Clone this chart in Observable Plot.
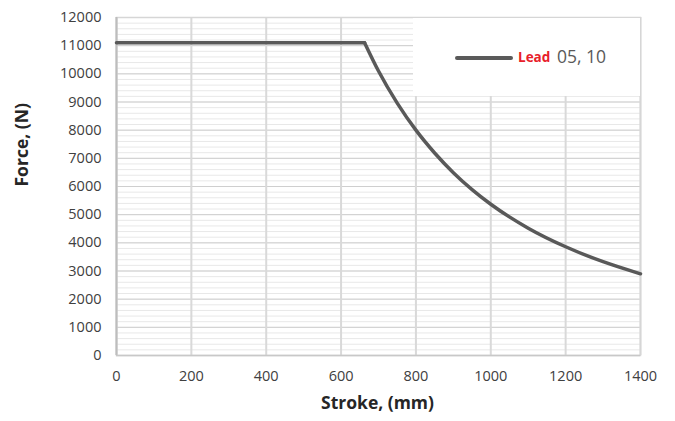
<!DOCTYPE html>
<html>
<head>
<meta charset="utf-8">
<script src="https://cdn.jsdelivr.net/npm/d3@7"></script>
<script src="https://cdn.jsdelivr.net/npm/@observablehq/plot@0.6"></script>
<style>
  html, body { margin: 0; padding: 0; background: #fff; }
  #wrap { position: relative; width: 675px; height: 421px; font-family: "Open Sans", sans-serif; }
  #legend { position: absolute; left: 413px; top: 18px; width: 227px; height: 78px; background: #fff; }
  #legend .sw { position: absolute; left: 42px; top: 38px; width: 58px; height: 4px; background: #5a5a5a; border-radius: 2px; }
  #legend .lead { position: absolute; left: 105px; top: 30px; color: #e8202a; font-weight: 700; font-size: 13.5px; }
  #legend .val { position: absolute; left: 144px; top: 26px; color: #595959; font-size: 17.5px; }
</style>
</head>
<body>
<div id="wrap"></div>
<script>
const stroke = [0, 200, 400, 600, 663, 700, 750, 800, 850, 900, 950, 1000, 1100, 1200, 1300, 1400];
const force  = [11100, 11100, 11100, 11100, 11100, 10100, 8960, 8000, 7190, 6490, 5890, 5370, 4520, 3860, 3330, 2900];
const cornerStroke = 663;
const xTicks = [0, 200, 400, 600, 800, 1000, 1200, 1400];
const yTicks = [0, 1000, 2000, 3000, 4000, 5000, 6000, 7000, 8000, 9000, 10000, 11000, 12000];
const yMinor = d3.range(0, 12001, 200);

const data = stroke.map((s, i) => ({stroke: s, force: force[i]}));
const flat = data.filter(d => d.stroke <= cornerStroke);
const falling = data.filter(d => d.stroke >= cornerStroke);
const fmt = d => String(d);

const chart = Plot.plot({
  width: 675,
  height: 421,
  marginLeft: 116,
  marginRight: 35,
  marginTop: 17,
  marginBottom: 66,
  style: { fontFamily: "Open Sans, sans-serif", fontSize: "14.5px", color: "#404040", background: "#fff" },
  x: { domain: [0, 1400] },
  y: { domain: [0, 12000] },
  marks: [
    Plot.ruleY(yMinor, { stroke: "#e8e8e8", strokeWidth: 1 }),
    Plot.ruleY(yTicks, { stroke: "#cfcfcf", strokeWidth: 1 }),
    Plot.ruleX(xTicks, { stroke: "#d9d9d9", strokeWidth: 2 }),
    Plot.frame({ stroke: "#d6d6d6", strokeWidth: 1.5 }),
    Plot.ruleX([0], { stroke: "#bdbdbd", strokeWidth: 2 }),
    Plot.ruleY([0], { stroke: "#c8c8c8", strokeWidth: 1.5 }),
    Plot.line(flat, { x: "stroke", y: "force", stroke: "#595959", strokeWidth: 3.5, strokeLinecap: "round" }),
    Plot.line(falling, { x: "stroke", y: "force", stroke: "#595959", strokeWidth: 3.5, curve: "monotone-x", strokeLinecap: "round" }),
    Plot.axisX({ ticks: xTicks, tickFormat: fmt, tickSize: 0, tickPadding: 15, label: null, fontSize: 14.5, fill: "#404040" }),
    Plot.axisY({ ticks: yTicks, tickFormat: fmt, tickSize: 0, tickPadding: 15, label: null, fontSize: 14.5, fill: "#404040" }),
    Plot.text(["Stroke, (mm)"], { frameAnchor: "bottom", dy: 53, dx: -1, fontSize: 17.5, fontWeight: "bold", fill: "#262626" }),
    Plot.text(["Force, (N)"], { frameAnchor: "left", dx: -94, rotate: -90, fontSize: 17.5, fontWeight: "bold", fill: "#262626" })
  ]
});

const wrap = document.getElementById("wrap");
wrap.appendChild(chart);
const leg = document.createElement("div");
leg.id = "legend";
leg.innerHTML = '<div class="sw"></div><span class="lead">Lead</span><span class="val">05, 10</span>';
wrap.appendChild(leg);
</script>
</body>
</html>
